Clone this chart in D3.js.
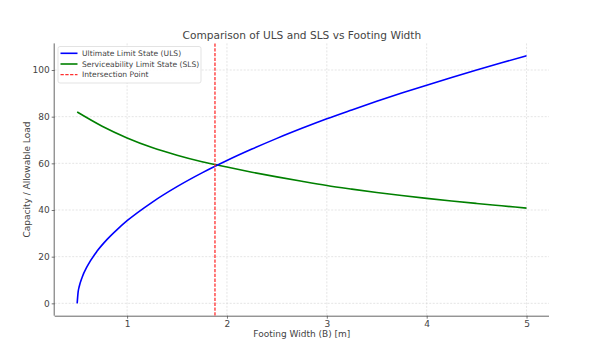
<!DOCTYPE html>
<html>
<head>
<meta charset="utf-8">
<script src="https://cdn.jsdelivr.net/npm/d3@7"></script>
<style>
  html, body { margin: 0; padding: 0; background: #fff; }
  svg { display: block; font-family: "DejaVu Sans", sans-serif; }
</style>
</head>
<body>
<svg id="chart" width="596" height="341"></svg>
<script>
// ---- data ----
const ulsWidth = [0.5, 0.51, 0.52, 0.55, 0.6, 0.7, 0.8, 0.9, 1.0, 1.25, 1.5, 1.75, 2.0, 2.25, 2.5, 2.75, 3.0, 3.25, 3.5, 3.75, 4.0, 4.25, 4.5, 4.75, 5.0];
const ulsValues = [0, 5.0, 7.1, 11.2, 15.8, 22.4, 27.4, 31.6, 35.4, 43.3, 50.0, 55.9, 61.2, 66.1, 70.7, 75.0, 79.1, 82.9, 86.6, 90.1, 93.5, 96.8, 100.0, 103.1, 106.1];
const slsWidth = [0.5, 0.75, 1.0, 1.25, 1.5, 1.75, 2.0, 2.25, 2.5, 2.75, 3.0, 3.25, 3.5, 3.75, 4.0, 4.25, 4.5, 4.75, 5.0];
const slsValues = [82.0, 75.9, 70.9, 66.8, 63.5, 60.7, 58.4, 56.2, 54.2, 52.3, 50.5, 48.95, 47.5, 46.2, 45.0, 43.85, 42.8, 41.8, 40.8];
const intersectionX = 1.88;
const xTicks = [1, 2, 3, 4, 5];
const yTicks = [0, 20, 40, 60, 80, 100];
const seriesNames = ["Ultimate Limit State (ULS)", "Serviceability Limit State (SLS)", "Intersection Point"];
const titleText = "Comparison of ULS and SLS vs Footing Width";
const xLabelText = "Footing Width (B) [m]";
const yLabelText = "Capacity / Allowable Load";

(function () {
// ---- layout ----
const svg = d3.select("#chart");
const pL = 54.7, pR = 549, pT = 43.4, pB = 315.7;
const x = d3.scaleLinear().domain([0.275, 5.225]).range([pL, pR]);
const y = d3.scaleLinear().domain([-5.3, 111.4]).range([pB, pT]);
const textColor = "#444";

// grid
const grid = svg.append("g");
grid.selectAll("line.vx").data(xTicks).join("line").attr("class", "vx")
  .attr("x1", d => x(d)).attr("x2", d => x(d))
  .attr("y1", pT).attr("y2", pB)
  .attr("stroke", "#d4d4d4").attr("stroke-width", 0.6).attr("stroke-dasharray", "2,1.5");
grid.selectAll("line.hy").data(yTicks).join("line").attr("class", "hy")
  .attr("x1", pL).attr("x2", pR)
  .attr("y1", d => y(d)).attr("y2", d => y(d))
  .attr("stroke", "#d4d4d4").attr("stroke-width", 0.6).attr("stroke-dasharray", "2,1.5");

// axes
const xAxis = d3.axisBottom(x).tickValues(xTicks).tickSize(3).tickPadding(2).tickFormat(d3.format("d"));
const yAxis = d3.axisLeft(y).tickValues(yTicks).tickSize(3).tickPadding(2).tickFormat(d3.format("d"));
const gx = svg.append("g").attr("transform", `translate(0,${pB})`).call(xAxis);
const gy = svg.append("g").attr("transform", `translate(${pL},0)`).call(yAxis);
[gx, gy].forEach(g => {
  g.select(".domain").attr("stroke", "#555").attr("stroke-width", 0.9);
  g.selectAll(".tick line").attr("stroke", "#555").attr("stroke-width", 0.8);
  g.selectAll(".tick text").attr("fill", textColor).style("font-size", "9px").style("font-family", "DejaVu Sans");
});
gx.select(".domain").attr("d", `M${pL},0.5H${pR}`);
gy.select(".domain").attr("d", `M-0.5,${pB}V${pT}`);

// lines
const lineGen = d3.line().x(d => x(d[0])).y(d => y(d[1])).curve(d3.curveMonotoneX);
const ulsData = ulsWidth.map((w, i) => [w, ulsValues[i]]);
const slsData = slsWidth.map((w, i) => [w, slsValues[i]]);

svg.append("path").datum(slsData).attr("d", lineGen)
  .attr("fill", "none").attr("stroke", "#008000").attr("stroke-width", 1.6);
svg.append("path").datum(ulsData).attr("d", lineGen)
  .attr("fill", "none").attr("stroke", "#0000ff").attr("stroke-width", 1.6);

// intersection line
svg.append("line")
  .attr("x1", x(intersectionX)).attr("x2", x(intersectionX))
  .attr("y1", pT).attr("y2", pB)
  .attr("stroke", "#ff3030").attr("stroke-width", 1.3).attr("stroke-dasharray", "3.3,1.5");

// title & labels
svg.append("text").attr("x", (pL + pR) / 2).attr("y", 38.5)
  .attr("text-anchor", "middle").attr("fill", textColor)
  .style("font-size", "10.6px").text(titleText);
svg.append("text").attr("x", (pL + pR) / 2).attr("y", 336.5)
  .attr("text-anchor", "middle").attr("fill", textColor)
  .style("font-size", "9px").text(xLabelText);
svg.append("text")
  .attr("transform", `translate(30,${(pT + pB) / 2}) rotate(-90)`)
  .attr("text-anchor", "middle").attr("fill", textColor)
  .style("font-size", "9px").text(yLabelText);

// legend
const lg = svg.append("g").attr("transform", "translate(58,46.5)");
lg.append("rect").attr("x", 0).attr("y", 0).attr("width", 143).attr("height", 36.5)
  .attr("rx", 2).attr("fill", "#fff").attr("fill-opacity", 0.85)
  .attr("stroke", "#dcdcdc").attr("stroke-width", 0.8);
const legendStyles = [
  { color: "#0000ff", dash: null },
  { color: "#008000", dash: null },
  { color: "#ff3030", dash: "3.3,1.5" }
];
seriesNames.forEach((name, i) => {
  const cy = 6.8 + i * 10.7;
  const ln = lg.append("line").attr("x1", 2.5).attr("x2", 19.5).attr("y1", cy).attr("y2", cy)
    .attr("stroke", legendStyles[i].color).attr("stroke-width", i === 2 ? 1.3 : 1.6);
  if (legendStyles[i].dash) ln.attr("stroke-dasharray", legendStyles[i].dash);
  lg.append("text").attr("x", 24).attr("y", cy + 2.6).attr("fill", textColor)
    .style("font-size", "7.6px").text(name);
});
})();
</script>
</body>
</html>
